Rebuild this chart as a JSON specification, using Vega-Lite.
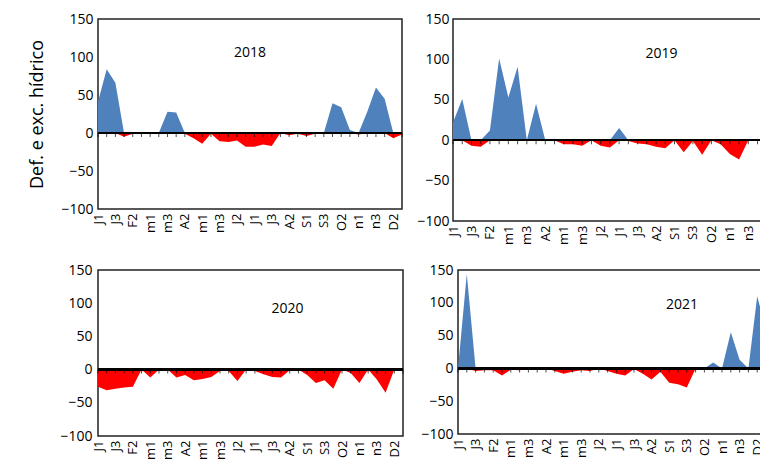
{
  "$schema": "https://vega.github.io/schema/vega-lite/v6.json",
  "padding": {"left": 28, "top": 11, "right": 0, "bottom": 0},
  "config": {
    "font": "Open Sans",
    "view": {"stroke": "#222222", "strokeWidth": 1.5},
    "axis": {"grid": false, "ticks": false, "domain": false, "labelColor": "black", "titleColor": "black", "labelFontSize": 14, "titleFontWeight": "normal", "labelOverlap": false, "labelFlush": false, "labelBound": false},
    "title": {"fontWeight": "normal", "fontSize": 14, "color": "black"}
  },
  "data": {"values": [
    {"year":2018,"i":0,"exc":41,"def":0},{"year":2018,"i":1,"exc":84,"def":0},{"year":2018,"i":2,"exc":66,"def":0},{"year":2018,"i":3,"exc":0,"def":-5},{"year":2018,"i":4,"exc":0,"def":-1},{"year":2018,"i":5,"exc":0,"def":-1},{"year":2018,"i":6,"exc":0,"def":-1},{"year":2018,"i":7,"exc":0,"def":-1},{"year":2018,"i":8,"exc":28,"def":0},{"year":2018,"i":9,"exc":27,"def":0},{"year":2018,"i":10,"exc":0,"def":-1},{"year":2018,"i":11,"exc":0,"def":-7},{"year":2018,"i":12,"exc":0,"def":-14},{"year":2018,"i":13,"exc":0,"def":-1},{"year":2018,"i":14,"exc":0,"def":-11},{"year":2018,"i":15,"exc":0,"def":-12},{"year":2018,"i":16,"exc":0,"def":-10},{"year":2018,"i":17,"exc":0,"def":-18},{"year":2018,"i":18,"exc":0,"def":-18},{"year":2018,"i":19,"exc":0,"def":-15},{"year":2018,"i":20,"exc":0,"def":-17},{"year":2018,"i":21,"exc":0,"def":0},{"year":2018,"i":22,"exc":0,"def":-3},{"year":2018,"i":23,"exc":0,"def":-1},{"year":2018,"i":24,"exc":0,"def":-4},{"year":2018,"i":25,"exc":0,"def":-1},{"year":2018,"i":26,"exc":0,"def":-1},{"year":2018,"i":27,"exc":39,"def":0},{"year":2018,"i":28,"exc":34,"def":0},{"year":2018,"i":29,"exc":4,"def":0},{"year":2018,"i":30,"exc":0,"def":-2},{"year":2018,"i":31,"exc":28,"def":0},{"year":2018,"i":32,"exc":60,"def":0},{"year":2018,"i":33,"exc":45,"def":0},{"year":2018,"i":34,"exc":0,"def":-7},{"year":2018,"i":35,"exc":0,"def":-2},
    {"year":2019,"i":0,"exc":22,"def":0},{"year":2019,"i":1,"exc":51,"def":0},{"year":2019,"i":2,"exc":0,"def":-7},{"year":2019,"i":3,"exc":0,"def":-8},{"year":2019,"i":4,"exc":12,"def":0},{"year":2019,"i":5,"exc":101,"def":0},{"year":2019,"i":6,"exc":53,"def":0},{"year":2019,"i":7,"exc":91,"def":0},{"year":2019,"i":8,"exc":0,"def":-1},{"year":2019,"i":9,"exc":45,"def":0},{"year":2019,"i":10,"exc":0,"def":-1},{"year":2019,"i":11,"exc":0,"def":0},{"year":2019,"i":12,"exc":0,"def":-5},{"year":2019,"i":13,"exc":0,"def":-5},{"year":2019,"i":14,"exc":0,"def":-7},{"year":2019,"i":15,"exc":0,"def":0},{"year":2019,"i":16,"exc":0,"def":-7},{"year":2019,"i":17,"exc":0,"def":-9},{"year":2019,"i":18,"exc":15,"def":0},{"year":2019,"i":19,"exc":0,"def":-1},{"year":2019,"i":20,"exc":0,"def":-4},{"year":2019,"i":21,"exc":0,"def":-5},{"year":2019,"i":22,"exc":0,"def":-8},{"year":2019,"i":23,"exc":0,"def":-10},{"year":2019,"i":24,"exc":0,"def":0},{"year":2019,"i":25,"exc":0,"def":-15},{"year":2019,"i":26,"exc":0,"def":-1},{"year":2019,"i":27,"exc":0,"def":-18},{"year":2019,"i":28,"exc":0,"def":0},{"year":2019,"i":29,"exc":0,"def":-5},{"year":2019,"i":30,"exc":0,"def":-17},{"year":2019,"i":31,"exc":0,"def":-24},{"year":2019,"i":32,"exc":0,"def":0},{"year":2019,"i":33,"exc":0,"def":0},{"year":2019,"i":34,"exc":0,"def":-2},{"year":2019,"i":35,"exc":0,"def":0},
    {"year":2020,"i":0,"exc":0,"def":-26},{"year":2020,"i":1,"exc":0,"def":-31},{"year":2020,"i":2,"exc":0,"def":-29},{"year":2020,"i":3,"exc":0,"def":-27},{"year":2020,"i":4,"exc":0,"def":-26},{"year":2020,"i":5,"exc":0,"def":0},{"year":2020,"i":6,"exc":0,"def":-12},{"year":2020,"i":7,"exc":0,"def":0},{"year":2020,"i":8,"exc":0,"def":0},{"year":2020,"i":9,"exc":0,"def":-12},{"year":2020,"i":10,"exc":0,"def":-8},{"year":2020,"i":11,"exc":0,"def":-16},{"year":2020,"i":12,"exc":0,"def":-14},{"year":2020,"i":13,"exc":0,"def":-11},{"year":2020,"i":14,"exc":0,"def":-2},{"year":2020,"i":15,"exc":0,"def":-2},{"year":2020,"i":16,"exc":0,"def":-17},{"year":2020,"i":17,"exc":0,"def":0},{"year":2020,"i":18,"exc":0,"def":-2},{"year":2020,"i":19,"exc":0,"def":-7},{"year":2020,"i":20,"exc":0,"def":-11},{"year":2020,"i":21,"exc":0,"def":-12},{"year":2020,"i":22,"exc":0,"def":-1},{"year":2020,"i":23,"exc":0,"def":0},{"year":2020,"i":24,"exc":0,"def":-8},{"year":2020,"i":25,"exc":0,"def":-20},{"year":2020,"i":26,"exc":0,"def":-16},{"year":2020,"i":27,"exc":0,"def":-29},{"year":2020,"i":28,"exc":0,"def":0},{"year":2020,"i":29,"exc":0,"def":-5},{"year":2020,"i":30,"exc":0,"def":-20},{"year":2020,"i":31,"exc":0,"def":0},{"year":2020,"i":32,"exc":0,"def":-15},{"year":2020,"i":33,"exc":0,"def":-35},{"year":2020,"i":34,"exc":0,"def":0},{"year":2020,"i":35,"exc":0,"def":0},
    {"year":2021,"i":0,"exc":0,"def":0},{"year":2021,"i":1,"exc":144,"def":0},{"year":2021,"i":2,"exc":0,"def":-4},{"year":2021,"i":3,"exc":0,"def":-3},{"year":2021,"i":4,"exc":0,"def":-3},{"year":2021,"i":5,"exc":0,"def":-11},{"year":2021,"i":6,"exc":0,"def":-2},{"year":2021,"i":7,"exc":0,"def":-3},{"year":2021,"i":8,"exc":0,"def":-1},{"year":2021,"i":9,"exc":0,"def":-2},{"year":2021,"i":10,"exc":0,"def":0},{"year":2021,"i":11,"exc":0,"def":-4},{"year":2021,"i":12,"exc":0,"def":-8},{"year":2021,"i":13,"exc":0,"def":-5},{"year":2021,"i":14,"exc":0,"def":-3},{"year":2021,"i":15,"exc":0,"def":-4},{"year":2021,"i":16,"exc":0,"def":0},{"year":2021,"i":17,"exc":0,"def":-4},{"year":2021,"i":18,"exc":0,"def":-8},{"year":2021,"i":19,"exc":0,"def":-11},{"year":2021,"i":20,"exc":0,"def":-1},{"year":2021,"i":21,"exc":0,"def":-8},{"year":2021,"i":22,"exc":0,"def":-17},{"year":2021,"i":23,"exc":0,"def":-5},{"year":2021,"i":24,"exc":0,"def":-22},{"year":2021,"i":25,"exc":0,"def":-24},{"year":2021,"i":26,"exc":0,"def":-29},{"year":2021,"i":27,"exc":0,"def":0},{"year":2021,"i":28,"exc":0,"def":0},{"year":2021,"i":29,"exc":9,"def":0},{"year":2021,"i":30,"exc":0,"def":-1},{"year":2021,"i":31,"exc":55,"def":0},{"year":2021,"i":32,"exc":13,"def":0},{"year":2021,"i":33,"exc":0,"def":-3},{"year":2021,"i":34,"exc":110,"def":0},{"year":2021,"i":35,"exc":60,"def":0}
  ]},
  "vconcat": [
    {
      "hconcat": [
        {
          "width": 304, "height": 190,
          "title": {"text": "2018", "orient": "top", "anchor": "middle", "frame": "group", "baseline": "middle", "offset": -55, "dx": 0},
          "transform": [{"filter": "datum.year == 2018"}],
          "encoding": {
            "x": {"field": "i", "type": "quantitative", "scale": {"domain": [0, 35], "nice": false, "zero": false}, "axis": {"title": null, "labelOverlap": false, "values": [0,1,2,3,4,5,6,7,8,9,10,11,12,13,14,15,16,17,18,19,20,21,22,23,24,25,26,27,28,29,30,31,32,33,34,35], "labelExpr": "datum.value % 2 == 0 ? ['J1','J2','J3','F1','F2','F3','m1','m2','m3','A1','A2','A3','m1','m2','m3','J1','J2','J3','J1','J2','J3','A1','A2','A3','S1','S2','S3','O1','O2','O3','n1','n2','n3','D1','D2','D3'][datum.value] : ''", "labelAngle": -90, "labelFontSize": 13, "labelPadding": 4}}
          },
          "layer": [
            {"mark": {"type": "area", "color": "#4f81bd"}, "encoding": {
              "y": {"field": "exc", "type": "quantitative", "scale": {"domain": [-100, 150], "nice": false}, "axis": {"title": "Def. e exc. hídrico", "labelOverlap": false, "titleFontSize": 18, "titlePadding": 14, "values": [-100, -50, 0, 50, 100, 150], "labelPadding": 5}},
              "y2": {"datum": 0}}},
            {"mark": {"type": "area", "color": "#ff0000"}, "encoding": {
              "y": {"field": "def", "type": "quantitative", "axis": {"title": "Def. e exc. hídrico", "labelOverlap": false, "titleFontSize": 18, "titlePadding": 14, "values": [-100, -50, 0, 50, 100, 150], "labelPadding": 5}},
              "y2": {"datum": 0}}},
            {"mark": {"type": "rule", "color": "black", "strokeWidth": 1.5}, "encoding": {"y": {"datum": 0, "type": "quantitative", "axis": {"title": "Def. e exc. hídrico", "labelOverlap": false, "titleFontSize": 18, "titlePadding": 14, "values": [-100, -50, 0, 50, 100, 150], "labelPadding": 5}}, "x": null}},
            {"mark": {"type": "tick", "orient": "vertical", "size": 4, "thickness": 1, "color": "black", "yOffset": 2}, "encoding": {"y": {"datum": 0, "type": "quantitative", "axis": {"title": "Def. e exc. hídrico", "labelOverlap": false, "titleFontSize": 18, "titlePadding": 14, "values": [-100, -50, 0, 50, 100, 150], "labelPadding": 5}}}}
          ]
        },
        {
          "width": 323, "height": 202,
          "title": {"text": "2019", "orient": "top", "anchor": "middle", "frame": "group", "baseline": "middle", "offset": -56, "dx": 47},
          "transform": [{"filter": "datum.year == 2019"}],
          "encoding": {
            "x": {"field": "i", "type": "quantitative", "scale": {"domain": [0, 35], "nice": false, "zero": false}, "axis": {"title": null, "labelOverlap": false, "values": [0,1,2,3,4,5,6,7,8,9,10,11,12,13,14,15,16,17,18,19,20,21,22,23,24,25,26,27,28,29,30,31,32,33,34,35], "labelExpr": "datum.value % 2 == 0 ? ['J1','J2','J3','F1','F2','F3','m1','m2','m3','A1','A2','A3','m1','m2','m3','J1','J2','J3','J1','J2','J3','A1','A2','A3','S1','S2','S3','O1','O2','O3','n1','n2','n3','D1','D2','D3'][datum.value] : ''", "labelAngle": -90, "labelFontSize": 13, "labelPadding": 4}}
          },
          "layer": [
            {"mark": {"type": "area", "color": "#4f81bd"}, "encoding": {
              "y": {"field": "exc", "type": "quantitative", "scale": {"domain": [-100, 150], "nice": false}, "axis": {"title": null, "labelOverlap": false, "values": [-100, -50, 0, 50, 100, 150], "labelPadding": 4}},
              "y2": {"datum": 0}}},
            {"mark": {"type": "area", "color": "#ff0000"}, "encoding": {
              "y": {"field": "def", "type": "quantitative", "axis": {"title": null, "labelOverlap": false, "values": [-100, -50, 0, 50, 100, 150], "labelPadding": 4}},
              "y2": {"datum": 0}}},
            {"mark": {"type": "rule", "color": "black", "strokeWidth": 1.5}, "encoding": {"y": {"datum": 0, "type": "quantitative", "axis": {"title": null, "labelOverlap": false, "values": [-100, -50, 0, 50, 100, 150], "labelPadding": 4}}, "x": null}},
            {"mark": {"type": "tick", "orient": "vertical", "size": 4, "thickness": 1, "color": "black", "yOffset": 2}, "encoding": {"y": {"datum": 0, "type": "quantitative", "axis": {"title": null, "labelOverlap": false, "values": [-100, -50, 0, 50, 100, 150], "labelPadding": 4}}}}
          ]
        }
      ],
      "spacing": 6
    },
    {
      "hconcat": [
        {
          "width": 305, "height": 166,
          "title": {"text": "2020", "orient": "top", "anchor": "middle", "frame": "group", "baseline": "middle", "offset": -60, "dx": 37},
          "transform": [{"filter": "datum.year == 2020"}],
          "encoding": {
            "x": {"field": "i", "type": "quantitative", "scale": {"domain": [0, 35], "nice": false, "zero": false}, "axis": {"title": null, "labelOverlap": false, "values": [0,1,2,3,4,5,6,7,8,9,10,11,12,13,14,15,16,17,18,19,20,21,22,23,24,25,26,27,28,29,30,31,32,33,34,35], "labelExpr": "datum.value % 2 == 0 ? ['J1','J2','J3','F1','F2','F3','m1','m2','m3','A1','A2','A3','m1','m2','m3','J1','J2','J3','J1','J2','J3','A1','A2','A3','S1','S2','S3','O1','O2','O3','n1','n2','n3','D1','D2','D3'][datum.value] : ''", "labelAngle": -90, "labelFontSize": 13, "labelPadding": 4}}
          },
          "layer": [
            {"mark": {"type": "area", "color": "#4f81bd"}, "encoding": {
              "y": {"field": "exc", "type": "quantitative", "scale": {"domain": [-100, 150], "nice": false}, "axis": {"title": null, "labelOverlap": false, "values": [-100, -50, 0, 50, 100, 150], "labelPadding": 6}},
              "y2": {"datum": 0}}},
            {"mark": {"type": "area", "color": "#ff0000"}, "encoding": {
              "y": {"field": "def", "type": "quantitative", "axis": {"title": null, "labelOverlap": false, "values": [-100, -50, 0, 50, 100, 150], "labelPadding": 6}},
              "y2": {"datum": 0}}},
            {"mark": {"type": "rule", "color": "black", "strokeWidth": 1.5}, "encoding": {"y": {"datum": 0, "type": "quantitative", "axis": {"title": null, "labelOverlap": false, "values": [-100, -50, 0, 50, 100, 150], "labelPadding": 6}}, "x": null}},
            {"mark": {"type": "tick", "orient": "vertical", "size": 4, "thickness": 1, "color": "black", "yOffset": 2}, "encoding": {"y": {"datum": 0, "type": "quantitative", "axis": {"title": null, "labelOverlap": false, "values": [-100, -50, 0, 50, 100, 150], "labelPadding": 6}}}}
          ]
        },
        {
          "width": 308, "height": 164,
          "title": {"text": "2021", "orient": "top", "anchor": "middle", "frame": "group", "baseline": "middle", "offset": -56, "dx": 70},
          "transform": [{"filter": "datum.year == 2021"}],
          "encoding": {
            "x": {"field": "i", "type": "quantitative", "scale": {"domain": [0, 35], "nice": false, "zero": false}, "axis": {"title": null, "labelOverlap": false, "values": [0,1,2,3,4,5,6,7,8,9,10,11,12,13,14,15,16,17,18,19,20,21,22,23,24,25,26,27,28,29,30,31,32,33,34,35], "labelExpr": "datum.value % 2 == 0 ? ['J1','J2','J3','F1','F2','F3','m1','m2','m3','A1','A2','A3','m1','m2','m3','J1','J2','J3','J1','J2','J3','A1','A2','A3','S1','S2','S3','O1','O2','O3','n1','n2','n3','D1','D2','D3'][datum.value] : ''", "labelAngle": -90, "labelFontSize": 13, "labelPadding": 4}}
          },
          "layer": [
            {"mark": {"type": "area", "color": "#4f81bd"}, "encoding": {
              "y": {"field": "exc", "type": "quantitative", "scale": {"domain": [-100, 150], "nice": false}, "axis": {"title": null, "labelOverlap": false, "values": [-100, -50, 0, 50, 100, 150], "labelPadding": 5}},
              "y2": {"datum": 0}}},
            {"mark": {"type": "area", "color": "#ff0000"}, "encoding": {
              "y": {"field": "def", "type": "quantitative", "axis": {"title": null, "labelOverlap": false, "values": [-100, -50, 0, 50, 100, 150], "labelPadding": 5}},
              "y2": {"datum": 0}}},
            {"mark": {"type": "rule", "color": "black", "strokeWidth": 1.5}, "encoding": {"y": {"datum": 0, "type": "quantitative", "axis": {"title": null, "labelOverlap": false, "values": [-100, -50, 0, 50, 100, 150], "labelPadding": 5}}, "x": null}},
            {"mark": {"type": "tick", "orient": "vertical", "size": 4, "thickness": 1, "color": "black", "yOffset": 2}, "encoding": {"y": {"datum": 0, "type": "quantitative", "axis": {"title": null, "labelOverlap": false, "values": [-100, -50, 0, 50, 100, 150], "labelPadding": 5}}}}
          ]
        }
      ],
      "spacing": 9
    }
  ],
  "spacing": 16
}
